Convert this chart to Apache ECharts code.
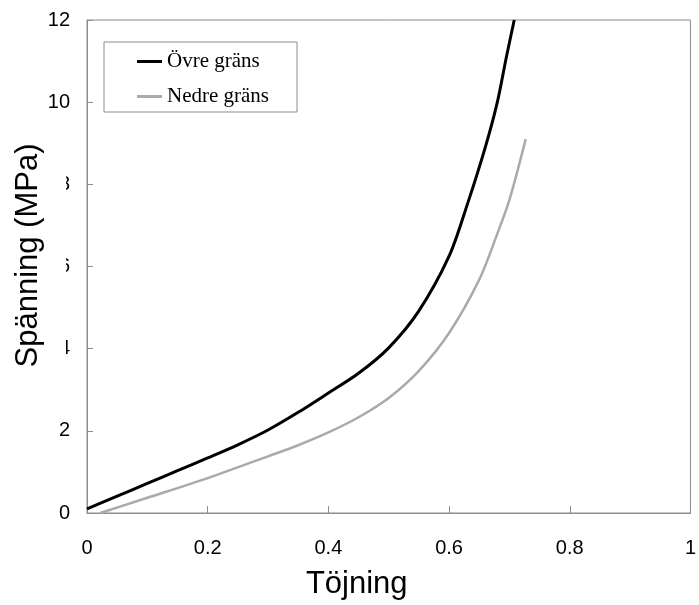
<!DOCTYPE html>
<html>
<head>
<meta charset="utf-8">
<script src="https://cdn.jsdelivr.net/npm/echarts@6/dist/echarts.min.js"></script>
<style>
  html, body { margin: 0; padding: 0; background: #fff; }
  #chart { width: 699px; height: 605px; }
</style>
</head>
<body>
<div id="chart"></div>
<script>
// Övre gräns (black)
const upperX = [0, 0.05, 0.1, 0.15, 0.2, 0.25, 0.3, 0.35, 0.4, 0.45, 0.5, 0.55, 0.6, 0.63, 0.66, 0.68, 0.695, 0.708];
const upperY = [0.1, 0.41, 0.72, 1.03, 1.34, 1.66, 2.02, 2.45, 2.92, 3.4, 4.02, 4.92, 6.25, 7.5, 8.9, 10.0, 11.1, 12];
// Nedre gräns (grey)
const lowerX = [0.022, 0.1, 0.2, 0.3, 0.35, 0.4, 0.45, 0.5, 0.55, 0.6, 0.65, 0.68, 0.7, 0.727];
const lowerY = [0, 0.37, 0.85, 1.38, 1.65, 1.96, 2.33, 2.8, 3.46, 4.38, 5.68, 6.8, 7.62, 9.1];

const seriesNames = ['Övre gräns', 'Nedre gräns'];
const xTitle = 'Töjning';
const yTitle = 'Spänning (MPa)';

const pairs = (xs, ys) => xs.map((x, i) => [x, ys[i]]);

const chart = echarts.init(document.getElementById('chart'), null, { renderer: 'canvas' });

const axisGrey = '#8c8c8c';

const option = {
  backgroundColor: '#fff',
  animation: false,
  grid: {
    left: 87, right: 5, top: 20, bottom: 92,
    show: true, borderColor: axisGrey, borderWidth: 1,
    containLabel: false
  },
  legend: {
    data: seriesNames,
    orient: 'vertical',
    left: 104, top: 42,
    padding: [9, 28, 5, 33],
    itemGap: 14,
    itemWidth: 25,
    itemHeight: 3,
    icon: 'rect',
    borderColor: axisGrey,
    borderWidth: 1,
    textStyle: { fontFamily: 'Liberation Serif', fontSize: 21, lineHeight: 21, color: '#000' }
  },
  xAxis: {
    type: 'value',
    min: 0, max: 1, interval: 0.2,
    name: xTitle,
    nameLocation: 'middle',
    nameGap: 56,
    nameMoveOverlap: false,
    nameTextStyle: { fontFamily: 'Liberation Sans', fontSize: 31, color: '#000', padding: [0, 64, 0, 0] },
    axisLine: { show: true, lineStyle: { color: axisGrey, width: 1 } },
    axisTick: { show: true, inside: true, length: 7, lineStyle: { color: axisGrey } },
    axisLabel: { margin: 25, fontFamily: 'Liberation Sans', fontSize: 20, color: '#000' },
    splitLine: { show: false }
  },
  yAxis: [
    {
      type: 'value',
      min: 0, max: 12, interval: 2,
      axisLine: { show: true, lineStyle: { color: axisGrey, width: 1 } },
      axisTick: { show: true, inside: true, length: 6, lineStyle: { color: axisGrey } },
      axisLabel: { margin: 17, fontFamily: 'Liberation Sans', fontSize: 20, color: '#000' },
      splitLine: { show: false }
    },
    {
      // second axis only carries the title; its white box sits over the 4/6/8 labels
      type: 'value',
      position: 'left',
      min: 0, max: 12, interval: 2,
      z: 5,
      name: yTitle,
      nameLocation: 'middle',
      nameGap: 21,
      nameMoveOverlap: false,
      nameTextStyle: {
        fontFamily: 'Liberation Sans', fontSize: 31, color: '#000',
        backgroundColor: '#fff', padding: [0, 0, 22, 22]
      },
      axisLine: { show: false },
      axisTick: { show: false },
      axisLabel: { show: false },
      splitLine: { show: false }
    }
  ],
  series: [
    {
      name: seriesNames[0],
      type: 'line',
      data: pairs(upperX, upperY),
      smooth: 0.3,
      symbol: 'none',
      clip: true,
      lineStyle: { color: '#000', width: 3 },
      itemStyle: { color: '#000' }
    },
    {
      name: seriesNames[1],
      type: 'line',
      data: pairs(lowerX, lowerY),
      smooth: 0.3,
      symbol: 'none',
      clip: true,
      lineStyle: { color: '#aaaaaa', width: 2.5 },
      itemStyle: { color: '#aaaaaa' }
    }
  ]
};

chart.setOption(option);
</script>
</body>
</html>
